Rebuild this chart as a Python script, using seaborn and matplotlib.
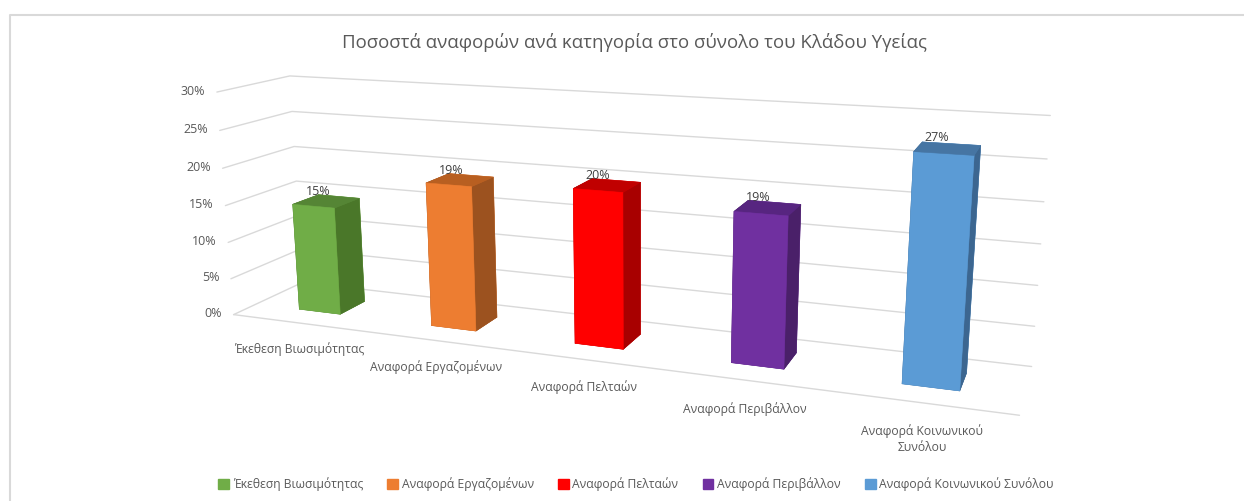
import matplotlib
matplotlib.use("Agg")
import matplotlib.pyplot as plt
from matplotlib.lines import Line2D
from matplotlib.patches import Patch
import seaborn as sns

title = "Ποσοστά αναφορών ανά κατηγορία στο σύνολο του Κλάδου Υγείας"
categories = ["Έκεθεση Βιωσιμότητας", "Αναφορά Εργαζομένων", "Αναφορά Πελταών", "Αναφορά Περιβάλλον", "Αναφορά Κοινωνικού Συνόλου"]
axis_labels = ["Έκεθεση Βιωσιμότητας", "Αναφορά Εργαζομένων", "Αναφορά Πελταών", "Αναφορά Περιβάλλον", "Αναφορά Κοινωνικού\nΣυνόλου"]
values = [0.146, 0.19, 0.198, 0.186, 0.27]
ticks = [0, 0.05, 0.10, 0.15, 0.20, 0.25, 0.30]
tick_labels = ["0%", "5%", "10%", "15%", "20%", "25%", "30%"]
front_colors = ["#70AD47", "#ED7D31", "#FF0000", "#7030A0", "#5B9BD5"]
side_colors = ["#4A7729", "#9C521F", "#A80000", "#4A2069", "#3C6690"]
top_colors = ["#558535", "#B85F21", "#C00000", "#572580", "#4675A3"]

sns.set_style("white")
plt.rcParams["font.family"] = ["Open Sans", "DejaVu Sans"]
grey = "#595959"
palette = sns.color_palette(front_colors)

W, H = 1244, 501
fig = plt.figure(figsize=(W / 100, H / 100), dpi=100)
# square 3d axes, it hangs over the top and bottom of the figure
side = 840.4
ax = fig.add_axes([175.6 / W, (H - 655.09) / H, side / W, side / H], projection="3d", computed_zorder=False)
ax.view_init(13.9277, -68.5701, 0.3142)
ax.set_proj_type("persp", focal_length=0.2974)
ax.set_box_aspect((3.3764, 0.5426, 1))
ax.set_axis_off()
ax.patch.set_alpha(0)

gap, y_front, y_back = 0.341, 0.316, 0.695

for t in ticks:
    ax.plot([0, 0, 5], [0, 1, 1], [t, t, t], color="#D9D9D9", lw=1, zorder=1, clip_on=False)
ax.plot([0, 5], [0, 0], [0, 0], color="#D9D9D9", lw=1, zorder=1, clip_on=False)

for i, v in enumerate(values):
    faces = [top_colors[i], top_colors[i], palette[i], palette[i], side_colors[i], side_colors[i]]
    ax.bar3d(i + gap, y_front, 0, 1 - 2 * gap, y_back - y_front, v, color=faces, edgecolor=faces, linewidth=0.4,
             shade=False, zorder=2 + i)
    ax.text(i + 0.44, (y_front + y_back) / 2, v + 0.012, f"{v:.0%}", ha="center", va="center", fontsize=9, color="#404040", zorder=10)

ax.set_xlim(0, 5)
ax.set_ylim(0, 1)
ax.set_zlim(0, 0.3)
# axis is off, the tick labels are drawn as text below
ax.set_xticks([])
ax.set_yticks([])
ax.set_zticks([])

for t, lab in zip(ticks, tick_labels):
    ax.text(-0.09, 0, t, lab, ha="right", va="center", fontsize=9, color=grey)
for i, lab in enumerate(axis_labels):
    ax.text(i + 0.5, 0, -0.036 - 0.006 * lab.count("\n"), lab, ha="center", va="center", fontsize=8.7, color=grey, linespacing=1.3)

fig.text(634 / W, 1 - 42 / H, title, ha="center", va="center", fontsize=13.4, color=grey)
handles = [Patch(color=palette[i], label=categories[i]) for i in range(5)]
fig.legend(handles=handles, ncol=5, loc="center", bbox_to_anchor=(636 / W, 1 - 484 / H), frameon=False, fontsize=8.7,
           labelcolor=grey, handlelength=0.9, handleheight=0.9, handletextpad=0.3, columnspacing=2.0)
fig.add_artist(Line2D([10 / W, 10 / W, 1], [0, 1 - 15 / H, 1 - 15 / H], color="#D9D9D9", lw=1.5))
fig.savefig("out.png", dpi=100)
